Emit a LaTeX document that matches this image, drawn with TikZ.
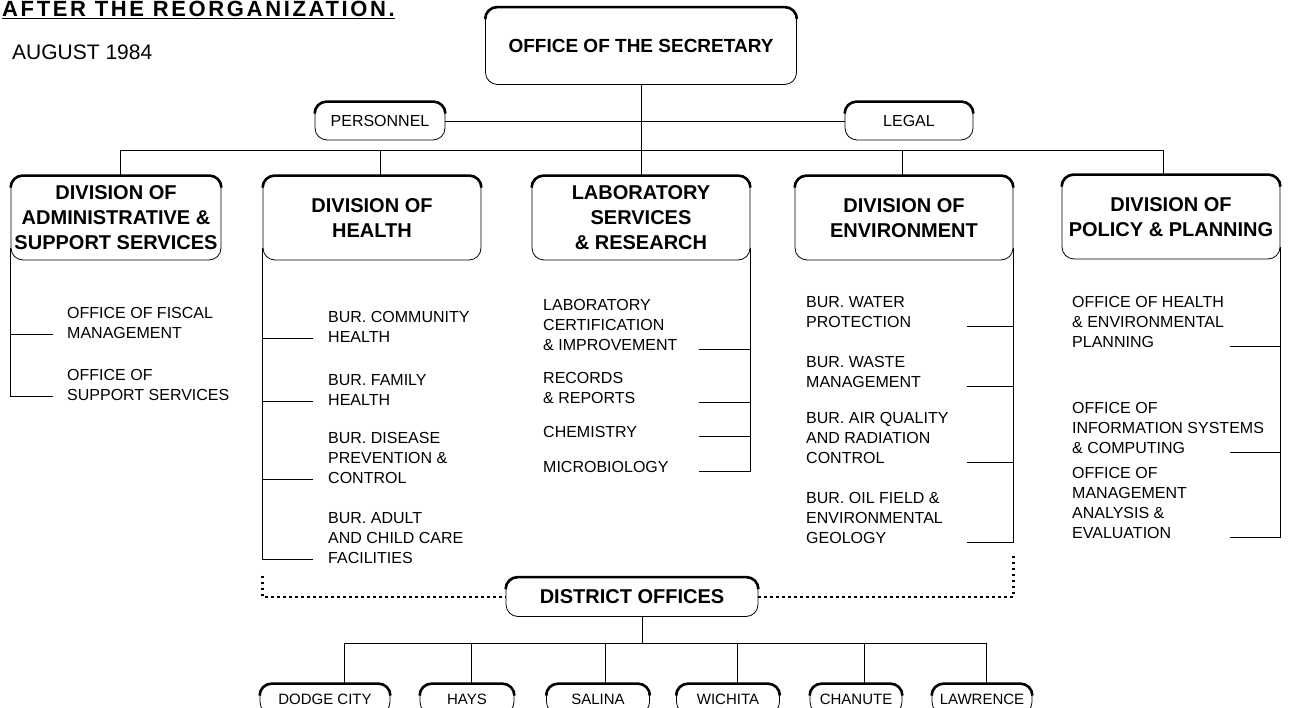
\documentclass[tikz,border=0pt]{standalone}
\usepackage{fontspec}
\setmainfont{Liberation Sans}
\usetikzlibrary{calc}

\newcommand\orgtitlefont{\fontsize{22}{26}\selectfont\bfseries\addfontfeature{LetterSpace=12}}
\newcommand\orgdatefont{\fontsize{21}{25}\selectfont}
\newcommand\orgsecfont{\fontsize{19}{23}\selectfont\bfseries}
\newcommand\orgdivfont{\fontsize{20}{25}\selectfont\bfseries}
\newcommand\orgpillfont{\fontsize{16}{19}\selectfont}
\newcommand\orgtownfont{\fontsize{15}{18}\selectfont}
\newcommand\orgitemfont{\fontsize{16}{20}\selectfont}

\begin{document}
\begin{tikzpicture}[x=1pt, y=-1pt,
	box/.style={draw, line width=0.8pt, rounded corners=12pt, align=center, inner sep=2pt},
	topedge/.style={line width=2.6pt, rounded corners=12pt},
	divbox/.style={box, minimum width=218pt, minimum height=84pt, font=\orgdivfont},
	pill/.style={box, minimum height=38pt, font=\orgpillfont},
	town/.style={box, minimum height=30pt, font=\orgtownfont},
	item/.style={anchor=north west, align=left, inner sep=0pt, font=\orgitemfont},
	link/.style={line width=0.8pt},
	district/.style={line width=2.4pt, dash pattern=on 2.5pt off 3.5pt}]
\useasboundingbox (0,0) rectangle (1289,708);

% heading
\node[anchor=base west, inner sep=0pt, font=\orgtitlefont] (ttl) at (2,17) {\underline{AFTER THE REORGANIZATION.}};
\node[anchor=base west, inner sep=0pt, font=\orgdatefont] (date) at (12,60) {AUGUST 1984};

% top of the chart
\node[box, minimum width=311pt, minimum height=77pt, font=\orgsecfont] (sec) at (641,46) {OFFICE OF THE SECRETARY};
\node[pill, minimum width=130pt] (pers) at (380,121) {PERSONNEL};
\node[pill, minimum width=128pt] (legal) at (909,121) {LEGAL};

% divisions
\node[divbox, minimum width=210pt] (d1) at (116,218) {DIVISION OF\\ADMINISTRATIVE \&\\SUPPORT SERVICES};
\node[divbox] (d2) at (372,218) {DIVISION OF\\HEALTH};
\node[divbox] (d3) at (641,218) {LABORATORY\\SERVICES\\\& RESEARCH};
\node[divbox] (d4) at (904,218) {DIVISION OF\\ENVIRONMENT};
\node[divbox] (d5) at (1171,217) {DIVISION OF\\POLICY \& PLANNING};

\coordinate (bar) at (0,150);
\draw[link] (sec.south) -- (sec.south |- d3.north);
\draw[link] (pers) -- (legal);
\draw[link] ([xshift=4pt]d1.north |- bar) -- ([xshift=-8pt]d5.north |- bar);
\foreach \d/\s in {d1/4, d2/8, d3/0, d4/-2, d5/-8}
	\draw[link] ([xshift=\s pt]\d.north |- bar) -- ([xshift=\s pt]\d.north);

% offices and bureaus
\node[item] (a1) at (67,307) {OFFICE OF FISCAL\\MANAGEMENT};
\node[item] (a2) at (67,369) {OFFICE OF\\SUPPORT SERVICES};
\node[item] (h1) at (328,311) {BUR. COMMUNITY\\HEALTH};
\node[item] (h2) at (328,374) {BUR. FAMILY\\HEALTH};
\node[item] (h3) at (328,432) {BUR. DISEASE\\PREVENTION \&\\CONTROL};
\node[item] (h4) at (328,512) {BUR. ADULT\\AND CHILD CARE\\FACILITIES};
\node[item] (l1) at (543,299) {LABORATORY\\CERTIFICATION\\\& IMPROVEMENT};
\node[item] (l2) at (543,372) {RECORDS\\\& REPORTS};
\node[item] (l3) at (543,426) {CHEMISTRY};
\node[item] (l4) at (543,461) {MICROBIOLOGY};
\node[item] (e1) at (806,296) {BUR. WATER\\PROTECTION};
\node[item] (e2) at (806,356) {BUR. WASTE\\MANAGEMENT};
\node[item] (e3) at (806,412) {BUR. AIR QUALITY\\AND RADIATION\\CONTROL};
\node[item] (e4) at (806,492) {BUR. OIL FIELD \&\\ENVIRONMENTAL\\GEOLOGY};
\node[item] (p1) at (1072,296) {OFFICE OF HEALTH\\\& ENVIRONMENTAL\\PLANNING};
\node[item] (p2) at (1072,402) {OFFICE OF\\INFORMATION SYSTEMS\\\& COMPUTING};
\node[item] (p3) at (1072,467) {OFFICE OF\\MANAGEMENT\\ANALYSIS \&\\EVALUATION};

\foreach \i in {a1,a2}
	\draw[link] ([yshift=4pt]\i.south west) ++(-14,0) -| ([yshift=12pt]d1.south west);
\foreach \i in {h1,h2,h3,h4}
	\draw[link] ([yshift=4pt]\i.south west) ++(-15,0) -| ([yshift=12pt]d2.south west);
\foreach \i in {l1,l2,l3,l4}
	\draw[link] ([yshift=1pt]\i.south west) ++(156,0) -| ([yshift=12pt]d3.south east);
\foreach \i in {e1,e2,e3,e4}
	\draw[link] ([yshift=1pt]\i.south west) ++(161,0) -| ([yshift=12pt]d4.south east);
\foreach \i in {p1,p2,p3}
	\draw[link] ([yshift=1pt]\i.south west) ++(158,0) -| ([yshift=12pt]d5.south east);

% district offices
\node[box, minimum width=252pt, minimum height=39pt, font=\orgdivfont] (do) at (632,597) {DISTRICT OFFICES};
\draw[district] ([yshift=-12pt]d2.west |- h4.south) |- (do.west);
\draw[district] ([yshift=-12pt]d4.east |- e4.south) |- (do.east);

\foreach \n/\x/\w/\t in {dodge/325/130/DODGE CITY, hays/467/94/HAYS, salina/598/103/SALINA,
		wichita/728/103/WICHITA, chanute/856/92/CHANUTE, lawrence/982/100/LAWRENCE}
	\node[town, minimum width=\w pt] (\n) at (\x,699) {\t};

\coordinate (tbar) at (0,643);
\draw[link] ([xshift=10pt]do.south) -- ([xshift=10pt]do.south |- tbar);
\draw[link] ([xshift=19pt]dodge.north |- tbar) -- ([xshift=4pt]lawrence.north |- tbar);
\foreach \n/\s in {dodge/19, hays/4, salina/7, wichita/9, chanute/8, lawrence/4}
	\draw[link] ([xshift=\s pt]\n.north |- tbar) -- ([xshift=\s pt]\n.north);

% heavy top edges
\foreach \n in {sec,pers,legal,d1,d2,d3,d4,d5,do,dodge,hays,salina,wichita,chanute,lawrence}
	\draw[topedge] ([yshift=-12pt]\n.north west) |- (\n.north) -| ([yshift=-12pt]\n.north east);
\end{tikzpicture}
\end{document}
